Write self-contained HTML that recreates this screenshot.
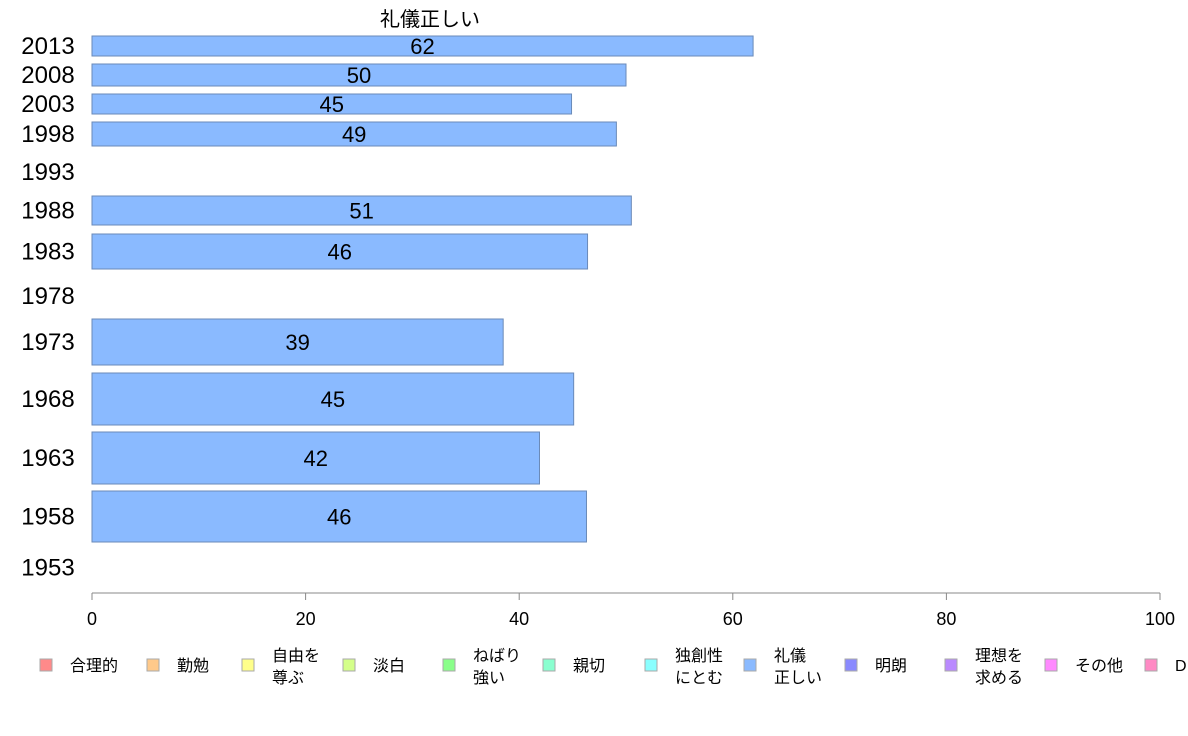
<!DOCTYPE html>
<html><head><meta charset="utf-8"><style>
body{margin:0;background:#fff;}
svg{display:block;font-family:"Liberation Sans","Noto Sans CJK JP",sans-serif;}
</style></head><body>
<svg id="chart" width="1188" height="736" viewBox="0 0 1188 736">
<text x="430" y="26" font-size="20" text-anchor="middle" fill="#000">礼儀正しい</text>
<g id="bars"></g>
<g id="axis"></g>
<g id="legend"></g>
</svg>
<script>
const years = ["2013","2008","2003","1998","1993","1988","1983","1978","1973","1968","1963","1958","1953"];
const values = [61.9,50.0,44.9,49.1,null,50.5,46.4,null,38.5,45.1,41.9,46.3,null];
const labels = ["62","50","45","49","","51","46","","39","45","42","46",""];
const xTicks = [0,20,40,60,80,100];
const legendNames = [["合理的"],["勤勉"],["自由を","尊ぶ"],["淡白"],["ねばり","強い"],["親切"],["独創性","にとむ"],["礼儀","正しい"],["明朗"],["理想を","求める"],["その他"],["D"]];
const legendColors = ["#ff8a8a","#ffc98a","#ffff8a","#d4ff8a","#8aff8a","#8affd0","#8affff","#8abaff","#8a8aff","#ba8aff","#ff8aff","#ff8ac4"];
// layout (band top/bottom per row, label y)
const bandTop = [36,64,94,122,160,196,234,282,319,373,432,491,555];
const bandBot = [56,86,114,146,184,225,269,310,365,425,484,542,580];
const x0 = 92, x1 = 1160;
function xScale(v){ return x0 + (v/100)*(x1-x0); }
const NS = "http://www.w3.org/2000/svg";
const bars = document.getElementById('bars');
years.forEach((y,i)=>{
  const cy = (bandTop[i]+bandBot[i])/2;
  const t = document.createElementNS(NS,'text');
  
  
  t.setAttribute('x',48); t.setAttribute('y',cy+8);
  t.setAttribute('font-size',24); t.setAttribute('text-anchor','middle');
  t.textContent = y; bars.appendChild(t);
  if(values[i]!==null){
    const r = document.createElementNS(NS,'rect');
    
    
    r.setAttribute('x',x0); r.setAttribute('y',bandTop[i]);
    r.setAttribute('width',xScale(values[i])-x0); r.setAttribute('height',bandBot[i]-bandTop[i]);
    r.setAttribute('fill','#8abaff'); r.setAttribute('stroke','#6a8ab8'); r.setAttribute('stroke-width',1);
    bars.appendChild(r);
    const l = document.createElementNS(NS,'text');
    
    
    l.setAttribute('x',(x0+xScale(values[i]))/2); l.setAttribute('y',cy+8);
    l.setAttribute('font-size',22); l.setAttribute('text-anchor','middle');
    l.textContent = labels[i]; bars.appendChild(l);
  }
});
const axis = document.getElementById('axis');
const al = document.createElementNS(NS,'line');


al.setAttribute('x1',x0); al.setAttribute('x2',x1); al.setAttribute('y1',593); al.setAttribute('y2',593);
al.setAttribute('stroke','#888'); axis.appendChild(al);
xTicks.forEach(v=>{
  const tk = document.createElementNS(NS,'line');
  
  
  tk.setAttribute('x1',xScale(v)); tk.setAttribute('x2',xScale(v)); tk.setAttribute('y1',593); tk.setAttribute('y2',600);
  tk.setAttribute('stroke','#888'); axis.appendChild(tk);
  const tl = document.createElementNS(NS,'text');
  
  
  tl.setAttribute('x',xScale(v)); tl.setAttribute('y',625);
  tl.setAttribute('font-size',18); tl.setAttribute('text-anchor','middle');
  tl.textContent = v; axis.appendChild(tl);
});
const lg = document.getElementById('legend');
const swX = [40,147,242,343,443,543,645,744,845,945,1045,1145];
legendNames.forEach((n,i)=>{
  const g = document.createElementNS(NS,'g');
  
  
  const s = document.createElementNS(NS,'rect');
  
  
  s.setAttribute('x',swX[i]); s.setAttribute('y',659); s.setAttribute('width',12); s.setAttribute('height',12);
  s.setAttribute('fill',legendColors[i]); s.setAttribute('stroke','#aaa'); g.appendChild(s);
  n.forEach((line,j)=>{
    const t = document.createElementNS(NS,'text');
    
    
    t.setAttribute('x',swX[i]+30);
    t.setAttribute('y', n.length===1 ? 671 : 661+j*22);
    t.setAttribute('font-size',16);
    t.textContent = line; g.appendChild(t);
  });
  lg.appendChild(g);
});
</script>
</body></html>
